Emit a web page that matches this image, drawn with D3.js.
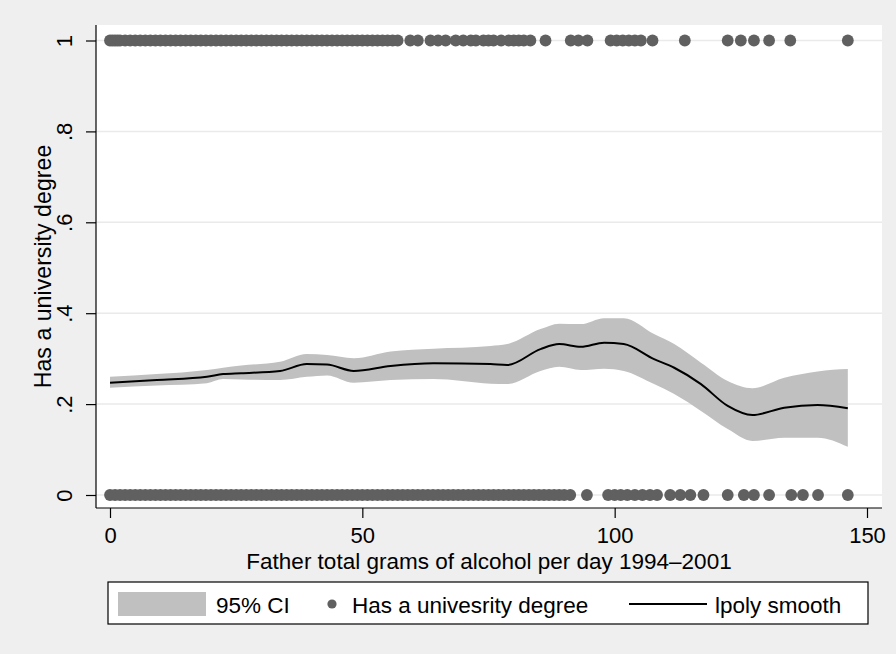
<!DOCTYPE html>
<html>
<head>
<meta charset="utf-8">
<script src="https://cdn.jsdelivr.net/npm/d3@7"></script>
<style>
  body { margin: 0; background: #efefef; }
  svg { display: block; font-family: "Liberation Sans", Arial, Helvetica, sans-serif; }
  .axis text { font-size: 22px; fill: #000; }
  .axis line { stroke: #000; stroke-width: 1.2; }
</style>
</head>
<body>
<script>
// x positions of respondents with a degree (y = 1)
var degreeX = [0, 0.5, 1, 1.5, 2, 3, 4, 5, 6, 7, 8, 9, 10, 11, 12, 13, 14, 15, 16, 17, 18, 19, 20,
  21, 22, 23, 24, 25, 26, 27, 28, 29, 30, 31, 32, 33, 34, 35, 36, 37, 38, 39, 40, 41, 42, 43, 44,
  45, 46, 47, 48, 49, 50, 51, 52, 53, 54, 55, 56, 57, 59.5, 61, 63.5, 65, 66.5, 68.5, 70, 71.5,
  72.5, 74, 75, 76, 77.5, 79, 80, 81, 82, 83.3, 86.3, 91.3, 92.8, 94.6, 99.2, 100.4, 101.6, 102.8,
  104, 105.2, 107.5, 113.9, 122.4, 125, 127.6, 130.6, 134.8, 146.2];

// x positions of respondents without a degree (y = 0)
var noDegreeX = [0, 1, 2, 3, 4, 5, 6, 7, 8, 9, 10, 11, 12, 13, 14, 15, 16, 17, 18, 19, 20, 21, 22,
  23, 24, 25, 26, 27, 28, 29, 30, 31, 32, 33, 34, 35, 36, 37, 38, 39, 40, 41, 42, 43, 44, 45, 46,
  47, 48, 49, 50, 51, 52, 53, 54, 55, 56, 57, 58, 59, 60, 61, 62, 63, 64, 65, 66, 67, 68, 69, 70,
  71, 72, 73, 74, 75, 76, 77, 78, 79, 80, 81, 82, 83, 84, 85, 86, 87, 88, 89, 90, 91.2, 94.5,
  98.7, 100, 101.2, 102.5, 104, 105.5, 107, 108.4, 111, 113, 115, 117.6, 122.4, 125.6, 127.6,
  130.6, 135, 137.3, 140.3, 146.2];

// lpoly smooth and its 95% CI
var smoothX = [0, 9.3, 19.2, 22.4, 26, 33.7, 39, 43, 48.3, 55.6, 64.1, 75.4, 78.7, 85.3, 89, 93.3,
  97.9, 101.8, 107.8, 111.8, 117.1, 122.4, 127.3, 133.6, 140.2, 146.2];
var smoothY = [0.247, 0.253, 0.260, 0.266, 0.268, 0.273, 0.288, 0.287, 0.273, 0.284, 0.290, 0.288,
  0.286, 0.321, 0.332, 0.326, 0.335, 0.332, 0.299, 0.280, 0.244, 0.196, 0.176, 0.192, 0.198, 0.191];
var ciHigh = [0.260, 0.266, 0.275, 0.280, 0.285, 0.293, 0.310, 0.308, 0.301, 0.316, 0.322, 0.328,
  0.332, 0.365, 0.377, 0.376, 0.389, 0.389, 0.354, 0.332, 0.291, 0.251, 0.235, 0.258, 0.272, 0.277];
var ciLow = [0.236, 0.241, 0.246, 0.255, 0.254, 0.253, 0.260, 0.263, 0.247, 0.253, 0.255, 0.245,
  0.244, 0.273, 0.282, 0.275, 0.278, 0.273, 0.244, 0.222, 0.185, 0.145, 0.119, 0.126, 0.126, 0.106];

var xTicks = [0, 50, 100, 150];
var yTicks = [0, 0.2, 0.4, 0.6, 0.8, 1];
var legendLabels = ["95% CI", "Has a univesrity degree", "lpoly smooth"];

var width = 896, height = 654;
var plot = {left: 96, right: 882, top: 25, bottom: 508};

var x = d3.scaleLinear().domain([0, 150]).range([110, 867]);
var y = d3.scaleLinear().domain([0, 1]).range([495, 40.5]);

var svg = d3.select("body").append("svg")
  .attr("width", width)
  .attr("height", height);

svg.append("rect").attr("width", width).attr("height", height).attr("fill", "#efefef");

// plot region
svg.append("rect")
  .attr("x", plot.left).attr("y", plot.top)
  .attr("width", plot.right - plot.left).attr("height", plot.bottom - plot.top)
  .attr("fill", "#fff");

// gridlines
svg.append("g").selectAll("line").data(yTicks).enter().append("line")
  .attr("x1", plot.left).attr("x2", plot.right)
  .attr("y1", function(d) { return y(d); })
  .attr("y2", function(d) { return y(d); })
  .attr("stroke", "#eaeaea").attr("stroke-width", 1.5);

var band = smoothX.map(function(v, i) { return {x: v, y: smoothY[i], lo: ciLow[i], hi: ciHigh[i]}; });

var area = d3.area()
  .x(function(d) { return x(d.x); })
  .y0(function(d) { return y(d.lo); })
  .y1(function(d) { return y(d.hi); })
  .curve(d3.curveMonotoneX);

svg.append("path").datum(band).attr("d", area).attr("fill", "#c0c0c0");

// scatter points
var dots = svg.append("g").attr("fill", "#606060");
dots.selectAll(".one").data(degreeX).enter().append("circle")
  .attr("cx", function(d) { return x(d); })
  .attr("cy", y(1))
  .attr("r", 5.9);
dots.selectAll(".zero").data(noDegreeX).enter().append("circle")
  .attr("cx", function(d) { return x(d); })
  .attr("cy", y(0))
  .attr("r", 5.9);

var line = d3.line()
  .x(function(d) { return x(d.x); })
  .y(function(d) { return y(d.y); })
  .curve(d3.curveMonotoneX);

svg.append("path").datum(band).attr("d", line)
  .attr("fill", "none").attr("stroke", "#000").attr("stroke-width", 2);

// axes
var fmt = function(d) {
  if (d === 0) return "0";
  if (d === 1) return "1";
  return d3.format(".1f")(d).replace(/^0/, "");
};

var yAxis = svg.append("g").attr("class", "axis")
  .attr("transform", "translate(" + plot.left + ",0)")
  .call(d3.axisLeft(y).tickValues(yTicks).tickFormat(fmt).tickSize(10).tickSizeOuter(0));
yAxis.select(".domain").remove();
yAxis.selectAll("text")
  .attr("transform", "rotate(-90)")
  .attr("x", 0).attr("y", -24).attr("dy", 0)
  .style("text-anchor", "middle");

var xAxis = svg.append("g").attr("class", "axis")
  .attr("transform", "translate(0," + plot.bottom + ")")
  .call(d3.axisBottom(x).tickValues(xTicks).tickSize(10).tickSizeOuter(0));
xAxis.select(".domain").remove();
xAxis.selectAll("text").attr("y", 35).attr("dy", 0);

svg.append("line")
  .attr("x1", plot.left).attr("x2", plot.left)
  .attr("y1", plot.top).attr("y2", plot.bottom)
  .attr("stroke", "#000").attr("stroke-width", 1.2);
svg.append("line")
  .attr("x1", plot.left).attr("x2", plot.right)
  .attr("y1", plot.bottom).attr("y2", plot.bottom)
  .attr("stroke", "#000").attr("stroke-width", 1.2);

// axis titles
svg.append("text").text("Father total grams of alcohol per day 1994\u20132001")
  .attr("x", (plot.left + plot.right) / 2).attr("y", 569)
  .attr("text-anchor", "middle").attr("font-size", 22.5);

svg.append("text").text("Has a university degree")
  .attr("transform", "translate(51," + ((plot.top + plot.bottom) / 2) + ") rotate(-90)")
  .attr("text-anchor", "middle").attr("font-size", 23.2);

// legend
var lg = svg.append("g");
lg.append("rect")
  .attr("x", 108).attr("y", 582).attr("width", 760).attr("height", 42)
  .attr("fill", "#fff").attr("stroke", "#000").attr("stroke-width", 1.2);
lg.append("rect")
  .attr("x", 118).attr("y", 592).attr("width", 88).attr("height", 24)
  .attr("fill", "#c0c0c0");
lg.append("text").text(legendLabels[0]).attr("x", 216).attr("y", 613).attr("font-size", 22.5);
lg.append("circle").attr("cx", 332).attr("cy", 604).attr("r", 4.6).attr("fill", "#606060");
lg.append("text").text(legendLabels[1]).attr("x", 352).attr("y", 613).attr("font-size", 22.5);
lg.append("line").attr("x1", 629).attr("x2", 707).attr("y1", 604).attr("y2", 604)
  .attr("stroke", "#000").attr("stroke-width", 2);
lg.append("text").text(legendLabels[2]).attr("x", 715).attr("y", 613).attr("font-size", 22.5);
</script>
</body>
</html>
